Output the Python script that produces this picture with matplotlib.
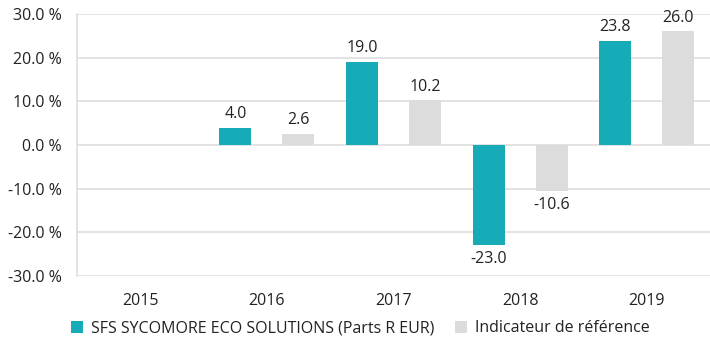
import numpy as np
import matplotlib.pyplot as plt

years = ['2015', '2016', '2017', '2018', '2019']
fund = [np.nan, 4.0, 19.0, -23.0, 23.8]
index = [np.nan, 2.6, 10.2, -10.6, 26.0]
yticks = [30, 20, 10, 0, -10, -20, -30]

plt.rcParams['font.family'] = ['Open Sans', 'DejaVu Sans']

teal = '#17abb8'
grey = '#dcdcdc'
grid = '#dedede'
fs = 11.5

fig = plt.figure(figsize=(7.1, 3.39), dpi=100)
ax = fig.add_axes([77 / 710, 1 - 276 / 339, 633 / 710, 262 / 339])

x = np.arange(len(years))
w = 0.253
off = 0.249
ax.bar(x - off, fund, w, color=teal, zorder=3, label='SFS SYCOMORE ECO SOLUTIONS (Parts R EUR)')
ax.bar(x + off, index, w, color=grey, zorder=3, label='Indicateur de référence')

for xs, vals in ((x - off, fund), (x + off, index)):
    for xi, v in zip(xs, vals):
        if np.isnan(v):
            continue
        if v >= 0:
            ax.text(xi, v + 1.3, f'{v:.1f}', ha='center', va='bottom', fontsize=fs, color='#222222')
        else:
            ax.text(xi, v - 1.3, f'{v:.1f}', ha='center', va='top', fontsize=fs, color='#222222')

ax.set_xlim(-0.5, len(years) - 0.5)
ax.set_ylim(-30, 30)
ax.set_yticks(yticks)
ax.set_yticklabels([f'{t:.1f} %' for t in yticks], fontsize=fs, color='#222222')
ax.set_xticks(x)
ax.set_xticklabels(years, fontsize=fs, color='#222222')
ax.tick_params(axis='y', length=0, pad=11)
ax.tick_params(axis='x', length=0, pad=12)
ax.yaxis.grid(True, color=grid, linewidth=1.2, zorder=0)
for s in ['top', 'right', 'bottom']:
    ax.spines[s].set_visible(False)
ax.spines['left'].set_color(grid)
ax.spines['left'].set_linewidth(1.2)

fig.legend(loc='lower left', bbox_to_anchor=(57 / 710, -0.035), ncol=2, frameon=False,
           fontsize=fs, handlelength=0.75, handleheight=0.75, handletextpad=0.5,
           columnspacing=1.3, labelcolor='#222222')

fig.savefig('out.png', dpi=100)
